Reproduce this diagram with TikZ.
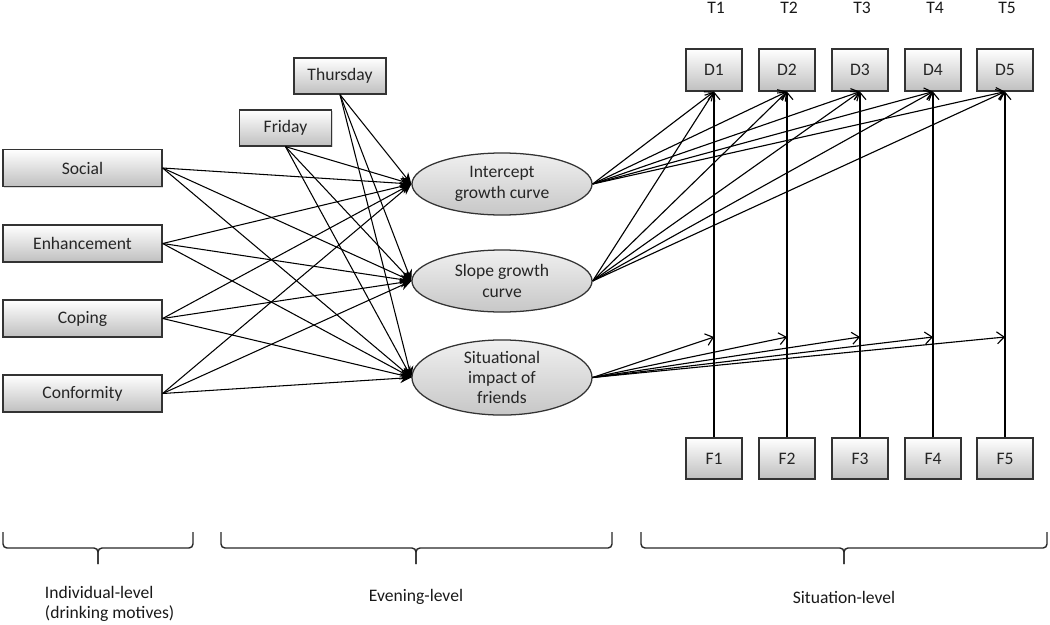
\documentclass[tikz,border=0pt]{standalone}
\usepackage{fontspec}
\setmainfont{Carlito}
\usetikzlibrary{shapes.geometric,arrows.meta,shadows}
\begin{document}
\begin{tikzpicture}[x=0.025cm,y=-0.025cm,
  font=\fontsize{12.5}{14.5}\selectfont,
  box/.style={draw=black!80, line width=0.9pt, top color=white, bottom color=black!25,
    drop shadow={opacity=0.3,shadow xshift=0.8pt,shadow yshift=-0.8pt},
    text=black!85, inner sep=0pt},
  motive/.style={box, minimum width=3.975cm, minimum height=0.925cm},
  daybox/.style={box, minimum width=2.3cm, minimum height=0.9cm},
  tbox/.style={box, minimum width=1.4cm, minimum height=1.05cm},
  latent/.style={ellipse, draw=black!80, line width=0.9pt, top color=black!6, bottom color=black!22,
    align=center, inner sep=0pt, minimum width=4.5cm, minimum height=1.55cm, text=black!85},
  arr/.style={-{Stealth[length=2.8mm,width=2.4mm]}, line width=0.75pt},
  barb/.style={-{Straight Barb[length=1.8mm,width=3mm]}, line width=0.8pt},
  bracepath/.style={draw=black!85, line width=1pt, rounded corners=0.1cm},
  lvl/.style={text=black!90}
]
\useasboundingbox (0,0) rectangle (1050,624);

% left motive boxes
\node[motive] (social) at (82.5,168) {Social};
\node[motive] (enh) at (82.5,243.5) {Enhancement};
\node[motive] (coping) at (82.5,318.5) {Coping};
\node[motive] (conf) at (82.5,393.5) {Conformity};

% day boxes
\node[daybox] (thu) at (340,76) {Thursday};
\node[daybox] (fri) at (285.5,128) {Friday};

% latent variables
\node[latent] (icpt) at (502,184) {Intercept\\growth curve};
\node[latent] (slope) at (502,281) {Slope growth\\curve};
\node[latent, minimum height=1.625cm] (situ) at (502,377.5) {Situational\\impact of\\friends};

% situation-level boxes
\foreach \i/\x in {1/714,2/787,3/860,4/933,5/1005}{
  \node[lvl] (T\i) at (\x+2,8) {T\i};
  \node[tbox] (D\i) at (\x,70) {D\i};
  \node[tbox, minimum height=1.025cm] (F\i) at (\x,458.5) {F\i};
  \coordinate (s\i) at (\x,337);
}

% connectors into latent variables
\foreach \s in {social.east,enh.east,coping.east,conf.east,thu.south,fri.south}{
  \foreach \t in {icpt,slope,situ}{
    \draw[arr] (\s) -- (\t.west);
  }
}

% connectors to situation level
\foreach \i in {1,...,5}{
  \draw[barb] (F\i.north) -- (D\i.south);
  \draw[barb] (icpt.east) -- (D\i.south);
  \draw[barb] (slope.east) -- (D\i.south);
  \draw[barb] (situ.east) -- (s\i);
}

% braces
\foreach \a/\m/\b in {3/98/193, 221/416/612, 641/844/1047}{
  \draw[bracepath] (\a,532) -- (\a,548) -- (\m,548) -- (\m,564);
  \draw[bracepath] (\b,532) -- (\b,548) -- (\m,548) -- (\m,564);
}

% level labels
\node[lvl, align=left, anchor=west] (indiv) at (40,604) {Individual-level\\(drinking motives)};
\node[lvl] (even) at (416,597) {Evening-level};
\node[lvl] (situl) at (844,597) {Situation-level};
\end{tikzpicture}
\end{document}
